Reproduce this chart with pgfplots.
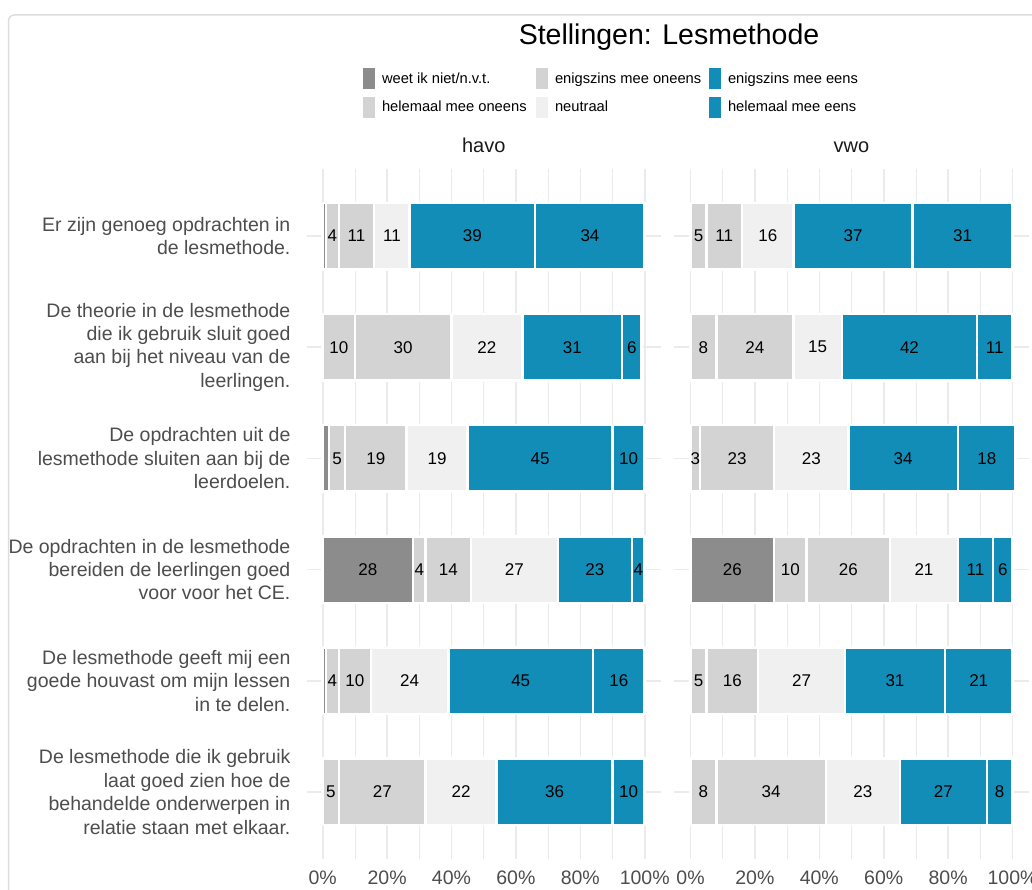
\documentclass[border=0pt]{standalone}
\usepackage{pgfplots}
\pgfplotsset{compat=1.18}
\usepackage{pgfplotstable}
\usepackage{fontspec}
\setmainfont{Liberation Sans}
\definecolor{cweet}{HTML}{8C8C8C}
\definecolor{cone}{HTML}{D3D3D3}
\definecolor{cneu}{HTML}{F0F0F0}
\definecolor{ceens}{HTML}{118DB8}
\definecolor{gridc}{HTML}{EBEBEB}
\definecolor{tickc}{HTML}{4D4D4D}
\definecolor{stripc}{HTML}{1A1A1A}
\definecolor{framec}{HTML}{DDDDDD}

\pgfplotstableread{
y w ho eo n ee he
6 1 4 11 11 39 34
5 0 10 30 22 31 6
4 2 5 19 19 45 10
3 28 4 14 27 23 4
2 1 4 10 24 45 16
1 0 5 27 22 36 10
}\havo
\pgfplotstableread{
y w ho eo n ee he
6 0 5 11 16 37 31
5 0 8 24 15 42 11
4 0 3 23 23 34 18
3 26 10 26 21 11 6
2 0 5 16 27 31 21
1 0 8 34 23 27 8
}\vwo

\newcommand\tickfont{\fontsize{19.5}{23.4}\selectfont}
\newcommand\barfont{\fontsize{17}{20}\selectfont}

\pgfplotsset{
  panel/.style={
    scale only axis, width=354.2pt, height=689.4pt,
    xbar stacked, bar width=66.5pt,
    xmin=-5, xmax=105, ymin=0.4, ymax=6.6,
    xtick={0,20,40,60,80,100}, minor xtick={10,30,50,70,90},
    xticklabels={0\%,20\%,40\%,60\%,80\%,100\%},
    ytick={1,2,3,4,5,6},
    xmajorgrids, xminorgrids, ymajorgrids,
    major grid style={gridc, line width=1.6pt},
    minor grid style={gridc, line width=0.8pt},
    axis line style={draw=none}, major tick length=0pt, minor tick length=0pt,
    tick style={draw=none},
    xticklabel style={font=\tickfont, text=tickc, anchor=north, inner sep=0pt, yshift=-12pt},
    yticklabel style={font=\tickfont, text=tickc, align=right, anchor=east, inner sep=0pt, xshift=-16pt},
    title style={font=\fontsize{20}{24}\selectfont, text=stripc, anchor=base, at={(0.5,1)}, yshift=11pt},
  },
  seg/.style={fill=#1, draw=white, line width=2.5pt,
    visualization depends on=rawx \as \rawx,
    nodes near coords={\pgfmathtruncatemacro\v{round(\rawx)}\ifnum\v<3 \else\v\fi},
    every node near coord/.append style={anchor=center, font=\barfont, text=black},
  },
}

\begin{document}
\begin{tikzpicture}
\useasboundingbox (0,0) rectangle (1032pt,889pt);
\draw[framec, line width=1.5pt, rounded corners=6pt] (8.5pt,-5pt) -- (8.5pt,874pt) -- (1040pt,874pt);

\begin{axis}[panel, at={(306.6pt,30.3pt)}, anchor=south west, title=havo,
  yticklabels={
    {De lesmethode die ik gebruik\\laat goed zien hoe de\\behandelde onderwerpen in\\relatie staan met elkaar.},
    {De lesmethode geeft mij een\\goede houvast om mijn lessen\\in te delen.},
    {De opdrachten in de lesmethode\\bereiden de leerlingen goed\\voor voor het CE.},
    {De opdrachten uit de\\lesmethode sluiten aan bij de\\leerdoelen.},
    {De theorie in de lesmethode\\die ik gebruik sluit goed\\aan bij het niveau van de\\leerlingen.},
    {Er zijn genoeg opdrachten in\\de lesmethode.}
  }]
\addplot[seg=cweet] table[x=w,y=y]{\havo};
\addplot[seg=cone] table[x=ho,y=y]{\havo};
\addplot[seg=cone] table[x=eo,y=y]{\havo};
\addplot[seg=cneu] table[x=n,y=y]{\havo};
\addplot[seg=ceens] table[x=ee,y=y]{\havo};
\addplot[seg=ceens] table[x=he,y=y]{\havo};
\end{axis}

\begin{axis}[panel, at={(674.4pt,30.3pt)}, anchor=south west, title=vwo,
  yticklabels={}]
\addplot[seg=cweet] table[x=w,y=y]{\vwo};
\addplot[seg=cone] table[x=ho,y=y]{\vwo};
\addplot[seg=cone] table[x=eo,y=y]{\vwo};
\addplot[seg=cneu] table[x=n,y=y]{\vwo};
\addplot[seg=ceens] table[x=ee,y=y]{\vwo};
\addplot[seg=ceens] table[x=he,y=y]{\vwo};
\end{axis}

\begin{axis}[at={(0pt,0pt)}, anchor=south west, scale only axis, width=1032pt, height=889pt,
  hide axis, xmin=0, xmax=1, ymin=0, ymax=1,
  legend columns=3,
  legend cell align=left,
  legend style={at={(0.35174,0.89539)}, anchor=west, draw=none, fill=none,
    inner sep=0pt, outer sep=0pt, row sep=7.5pt,
    font=\fontsize{14.7}{17}\selectfont,
    /tikz/every odd column/.append style={column sep=5pt}},
  legend image code/.code={\fill[#1, draw=none] (0pt,-10.5pt) rectangle (12pt,10.5pt);},
]
\addlegendimage{fill=cweet, draw=none}\addlegendentry{\makebox[152pt][l]{weet ik niet/n.v.t.}}
\addlegendimage{fill=cone, draw=none}\addlegendentry{\makebox[152pt][l]{enigszins mee oneens}}
\addlegendimage{fill=ceens, draw=none}\addlegendentry{\makebox[152pt][l]{enigszins mee eens}}
\addlegendimage{fill=cone, draw=none}\addlegendentry{\makebox[152pt][l]{helemaal mee oneens}}
\addlegendimage{fill=cneu, draw=none}\addlegendentry{\makebox[152pt][l]{neutraal}}
\addlegendimage{fill=ceens, draw=none}\addlegendentry{\makebox[152pt][l]{helemaal mee eens}}
\end{axis}

\node[font=\fontsize{28.5}{34}\selectfont, anchor=base] at (669pt,844pt) {Stellingen: Lesmethode};
\end{tikzpicture}
\end{document}
